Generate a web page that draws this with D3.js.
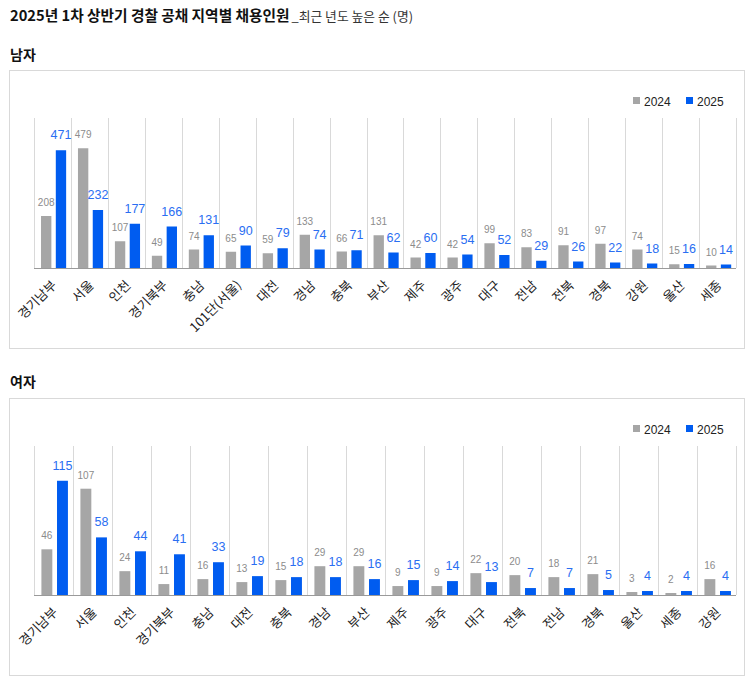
<!DOCTYPE html>
<html>
<head>
<meta charset="utf-8">
<script src="https://cdn.jsdelivr.net/npm/d3@7"></script>
<style>
  body { margin: 0; background: #fff; font-family: "Noto Sans CJK KR", "Noto Sans", sans-serif; }
</style>
</head>
<body>
<div id="chart"></div>
<script>
// Data
var maleRegions = ["경기남부", "서울", "인천", "경기북부", "충남", "101단(서울)", "대전", "경남", "충북", "부산", "제주", "광주", "대구", "전남", "전북", "경북", "강원", "울산", "세종"];
var male2024 = [208, 479, 107, 49, 74, 65, 59, 133, 66, 131, 42, 42, 99, 83, 91, 97, 74, 15, 10];
var male2025 = [471, 232, 177, 166, 131, 90, 79, 74, 71, 62, 60, 54, 52, 29, 26, 22, 18, 16, 14];

var femaleRegions = ["경기남부", "서울", "인천", "경기북부", "충남", "대전", "충북", "경남", "부산", "제주", "광주", "대구", "전북", "전남", "경북", "울산", "세종", "강원"];
var female2024 = [46, 107, 24, 11, 16, 13, 15, 29, 29, 9, 9, 22, 20, 18, 21, 3, 2, 16];
var female2025 = [115, 58, 44, 41, 33, 19, 18, 18, 16, 15, 14, 13, 7, 7, 5, 4, 4, 4];

var years = ["2024", "2025"];
var colors = { "2024": "#a6a6a6", "2025": "#005cf0" };
var labelColors = { "2024": "#8c8c8c", "2025": "#2a6ef2" };

var svgWidth = 746, svgHeight = 676;
var svg = d3.select("#chart").append("svg")
  .attr("width", svgWidth)
  .attr("height", svgHeight);

// Title
var title = svg.append("text")
  .attr("x", 10)
  .attr("y", 21)
  .style("fill", "#111");
title.append("tspan")
  .style("font-size", "14.7px")
  .style("font-weight", "bold")
  .text("2025년 1차 상반기 경찰 공채 지역별 채용인원");
title.append("tspan")
  .attr("dx", 2)
  .style("font-size", "12.8px")
  .style("fill", "#333")
  .text("_최근 년도 높은 순 (명)");

function drawPanel(opts) {
  var g = svg.append("g");

  // heading
  g.append("text")
    .attr("x", 10)
    .attr("y", opts.headY)
    .style("font-size", "14px")
    .style("font-weight", "bold")
    .style("fill", "#111")
    .text(opts.heading);

  // frame
  g.append("rect")
    .attr("x", 9.5)
    .attr("y", opts.boxTop + 0.5)
    .attr("width", 735)
    .attr("height", opts.boxHeight)
    .attr("fill", "#fff")
    .attr("stroke", "#d9d9d9");

  var rows = opts.regions.map(function(r, i) {
    return { region: r, "2024": opts.v2024[i], "2025": opts.v2025[i] };
  });

  var x0 = d3.scaleBand()
    .domain(opts.regions)
    .range([34, 736])
    .paddingInner(0)
    .paddingOuter(0);

  var bw = x0.bandwidth();
  var x1 = d3.scaleBand()
    .domain(years)
    .range([bw * 0.19, bw * 0.87])
    .paddingInner(0.3);

  var y = d3.scaleLinear()
    .domain([0, opts.yMax])
    .range([opts.baseY, opts.topY]);

  // vertical grid lines
  var edges = opts.regions.map(function(r) { return x0(r); }).concat([736]);
  g.selectAll(".grid")
    .data(edges)
    .enter()
    .append("line")
    .attr("x1", function(d) { return Math.round(d) + 0.5; })
    .attr("x2", function(d) { return Math.round(d) + 0.5; })
    .attr("y1", opts.topY)
    .attr("y2", opts.baseY)
    .attr("stroke", "#d9d9d9");

  var groups = g.selectAll(".grp")
    .data(rows)
    .enter()
    .append("g")
    .attr("transform", function(d) { return "translate(" + x0(d.region) + ",0)"; });

  groups.selectAll("rect")
    .data(function(d) { return years.map(function(k) { return { key: k, value: d[k] }; }); })
    .enter()
    .append("rect")
    .attr("x", function(d) { return x1(d.key); })
    .attr("width", x1.bandwidth())
    .attr("y", function(d) { return y(d.value); })
    .attr("height", function(d) { return opts.baseY - y(d.value); })
    .attr("fill", function(d) { return colors[d.key]; });

  groups.selectAll(".val")
    .data(function(d) { return years.map(function(k) { return { key: k, value: d[k] }; }); })
    .enter()
    .append("text")
    .attr("x", function(d) { return x1(d.key) + x1.bandwidth() / 2; })
    .attr("y", function(d) { return y(d.value) - (d.key === "2024" ? 10 : 11); })
    .attr("text-anchor", "middle")
    .style("font-size", function(d) { return d.key === "2024" ? "10px" : "12.5px"; })
    .style("font-family", "Arial, 'Liberation Sans', sans-serif")
    .style("fill", function(d) { return labelColors[d.key]; })
    .text(function(d) { return d.value; });

  // baseline
  g.append("line")
    .attr("x1", 34)
    .attr("x2", 736)
    .attr("y1", opts.baseY + 0.5)
    .attr("y2", opts.baseY + 0.5)
    .attr("stroke", "#9a9a9a");

  // x labels, rotated
  g.selectAll(".xlab")
    .data(opts.regions)
    .enter()
    .append("text")
    .attr("text-anchor", "end")
    .attr("transform", function(d) {
      return "translate(" + (x0(d) + bw / 2 + 5) + "," + (opts.baseY + 18) + ") rotate(-45)";
    })
    .style("font-size", "13px")
    .style("fill", "#222")
    .text(function(d) { return d; });

  // legend
  var legend = g.selectAll(".leg")
    .data(years)
    .enter()
    .append("g")
    .attr("transform", function(d, i) { return "translate(" + (633 + i * 53) + "," + opts.legendY + ")"; });
  legend.append("rect")
    .attr("width", 7)
    .attr("height", 7)
    .attr("y", -7)
    .attr("fill", function(d) { return colors[d]; });
  legend.append("text")
    .attr("x", 11)
    .attr("y", 2)
    .style("font-size", "12px")
    .style("font-family", "Arial, 'Liberation Sans', sans-serif")
    .style("fill", "#222")
    .text(function(d) { return d; });
}

drawPanel({
  heading: "남자", headY: 60,
  boxTop: 70, boxHeight: 278,
  regions: maleRegions, v2024: male2024, v2025: male2025,
  yMax: 600, topY: 118, baseY: 268, legendY: 104
});

drawPanel({
  heading: "여자", headY: 387,
  boxTop: 398, boxHeight: 277,
  regions: femaleRegions, v2024: female2024, v2025: female2025,
  yMax: 150, topY: 446, baseY: 595, legendY: 432
});
</script>
</body>
</html>
